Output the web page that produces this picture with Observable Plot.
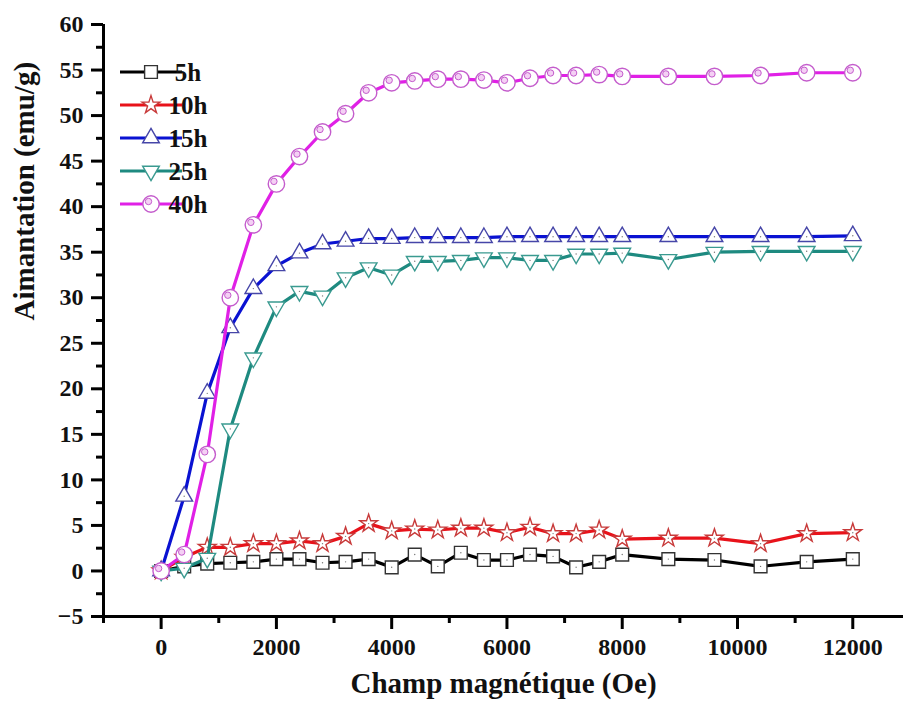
<!DOCTYPE html>
<html><head><meta charset="utf-8">
<script src="https://cdn.jsdelivr.net/npm/d3@7"></script>
<script src="https://cdn.jsdelivr.net/npm/@observablehq/plot@0.6"></script>
<style>body{margin:0;background:#fff}</style>
</head><body><div id="chart"></div>
<script>
// Champ magnétique (Oe)
const fields = [0, 400, 800, 1200, 1600, 2000, 2400, 2800, 3200, 3600, 4000, 4400, 4800, 5200, 5600, 6000, 6400, 6800, 7200, 7600, 8000, 8800, 9600, 10400, 11200, 12000];
const seriesNames = ["5h", "10h", "15h", "25h", "40h"];
// Aimantation (emu/g)
const m5h  = [0, 0.5, 0.8, 0.9, 1.0, 1.3, 1.3, 0.9, 1.0, 1.3, 0.4, 1.8, 0.5, 2.0, 1.2, 1.2, 1.8, 1.6, 0.4, 1.0, 1.8, 1.3, 1.2, 0.5, 1.0, 1.3];
const m10h = [0, 1.5, 2.6, 2.6, 3.0, 3.0, 3.3, 3.0, 3.8, 5.2, 4.4, 4.6, 4.5, 4.7, 4.7, 4.2, 4.8, 4.1, 4.1, 4.5, 3.5, 3.6, 3.6, 3.0, 4.1, 4.2];
const m15h = [0, 8.2, 19.5, 26.7, 31.0, 33.5, 34.9, 35.9, 36.2, 36.5, 36.5, 36.6, 36.6, 36.6, 36.6, 36.7, 36.7, 36.7, 36.7, 36.7, 36.7, 36.7, 36.7, 36.7, 36.7, 36.8];
const m25h = [0, 0.3, 1.4, 15.6, 23.4, 29.0, 30.7, 30.2, 32.2, 33.3, 32.5, 34.0, 34.0, 34.1, 34.4, 34.4, 34.1, 34.1, 34.8, 34.8, 34.9, 34.2, 35.0, 35.1, 35.1, 35.1];
const m40h = [0, 1.8, 12.8, 30.0, 38.0, 42.5, 45.5, 48.2, 50.2, 52.5, 53.6, 53.8, 54.0, 54.0, 53.9, 53.6, 54.1, 54.4, 54.4, 54.5, 54.3, 54.3, 54.3, 54.4, 54.7, 54.7];
const yTicks = [-5, 0, 5, 10, 15, 20, 25, 30, 35, 40, 45, 50, 55, 60];
const xTicks = [0, 2000, 4000, 6000, 8000, 10000, 12000];
const lineColors = ["#000000", "#e8121a", "#0a12d2", "#1e8a80", "#e020e6"];
const markerStrokes = ["#333333", "#c83a3a", "#4646a8", "#3a9a90", "#c45ccc"];

(function () {
  const values = [m5h, m10h, m15h, m25h, m40h];
  const triangleDown = {
    draw(ctx, size) {
      const y = -Math.sqrt(size / (Math.sqrt(3) * 3));
      ctx.moveTo(0, -2 * y);
      ctx.lineTo(-Math.sqrt(3) * y, y);
      ctx.lineTo(Math.sqrt(3) * y, y);
      ctx.closePath();
    }
  };
  const symbolTypes = [d3.symbolSquare, d3.symbolStar, d3.symbolTriangle, triangleDown, d3.symbolCircle];
  const radii = [7.2, 5.6, 6.2, 6.2, 8.2];
  const seriesRows = seriesNames.map((s, i) => fields.map((f, j) => ({series: s, field: f, m: values[i][j]})));

  const markList = [];
  seriesRows.forEach((data, i) => {
    markList.push(Plot.line(data, {x: "field", y: "m", stroke: lineColors[i], strokeWidth: 3.2}));
    markList.push(Plot.dot(data, {x: "field", y: "m", symbol: () => symbolTypes[i], r: radii[i], fill: "white", stroke: markerStrokes[i], strokeWidth: 1.4}));
    if (i === 4) {
      markList.push(Plot.dot(data, {x: "field", y: "m", r: 3.2, dx: -2.5, dy: -2.5, fill: "#f4d0f4", stroke: markerStrokes[i], strokeWidth: 1}));
    } else {
      markList.push(Plot.dot(data, {x: "field", y: "m", r: 0.7, fill: "#777"}));
    }
  });

  const txt = {fontFamily: "Liberation Serif", fontWeight: "bold", fill: "#111"};
  const chart = Plot.plot({
    width: 903,
    height: 715,
    marginLeft: 103,
    marginRight: 0,
    marginTop: 24,
    marginBottom: 99,
    x: {domain: [-1000, 12880]},
    y: {domain: [-5, 60]},
    marks: [
      Plot.axisY({ticks: d3.range(-2.5, 60, 5), tickSize: 7, strokeWidth: 3, tickFormat: () => "", label: null}),
      Plot.axisX({ticks: d3.range(-1000, 12000, 2000), tickSize: 7, strokeWidth: 3, tickFormat: () => "", label: null}),
      Plot.axisY({ticks: yTicks, tickSize: 12, tickPadding: 8, strokeWidth: 3, fontSize: 24, ...txt, label: null}),
      Plot.axisX({ticks: xTicks, tickSize: 13, tickPadding: 8, strokeWidth: 3, fontSize: 24, ...txt, tickFormat: d3.format("d"), label: null}),
      ...markList,
      Plot.ruleY([-5], {strokeWidth: 3}),
      Plot.ruleX([-1000], {strokeWidth: 3}),
      Plot.text(["Champ magnétique (Oe)"], {text: d => d, frameAnchor: "bottom", dy: 76, fontSize: 29, ...txt}),
      Plot.text(["Aimantation (emu/g)"], {text: d => d, frameAnchor: "left", dx: -79, rotate: -90, fontSize: 29, ...txt})
    ]
  });
  document.getElementById("chart").appendChild(chart);

  // Legend
  const lg = d3.select(chart).append("g").attr("font-family", "Liberation Serif").attr("font-weight", "bold");
  seriesNames.forEach((s, i) => {
    const y = 72 + i * 33;
    lg.append("line").attr("x1", 120).attr("x2", 182).attr("y1", y).attr("y2", y)
      .attr("stroke", lineColors[i]).attr("stroke-width", 3.2);
    lg.append("path").attr("transform", `translate(151,${y})`)
      .attr("d", d3.symbol(symbolTypes[i], Math.PI * radii[i] * radii[i])())
      .attr("fill", "white").attr("stroke", markerStrokes[i]).attr("stroke-width", 1.4);
    if (i === 4) {
      lg.append("circle").attr("cx", 148.5).attr("cy", y - 2.5).attr("r", 3.2)
        .attr("fill", "#f4d0f4").attr("stroke", markerStrokes[i]).attr("stroke-width", 1);
    }
    lg.append("text").attr("x", 188).attr("y", y).attr("dy", "0.35em")
      .attr("font-size", 25).attr("fill", "#111").text(s);
  });
})();
</script>
</body></html>
